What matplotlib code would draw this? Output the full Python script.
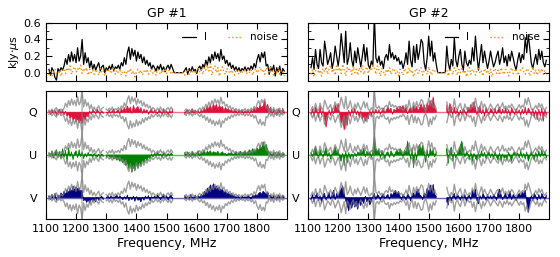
import numpy as np
import matplotlib
matplotlib.use("Agg")
import matplotlib.pyplot as plt
from matplotlib.ticker import MultipleLocator

# frequency grid (MHz), 5 MHz channels
freq = np.arange(1110, 1891, 5)

# GP #1, values in units of 0.01 kJy us
i1 = [4, -3, 6, 2, -6, -9, 5, 1, 6, 3,
      8, 17, 10, 22, 13, 25, 14, 22, 12, 30,
      14, 20, 40, 10, 24, 12, 18, 6, 14, 4,
      10, 3, 8, 12, 2, 7, 9, 0, 6, 3,
      8, 4, 10, 2, 7, 5, 9, 4, 12, 8,
      18, 10, 24, 31, 16, 29, 20, 27, 14, 25,
      17, 22, 12, 19, 10, 15, 8, 12, 4, 9,
      6, 2, 8, 4, 10, 3, 7, 1, 6, 9,
      4, 10, 5, 0, 0, 0, 0, 0, 0, 0,
      3, 6, -2, 5, 1, 7, 2, 4, -1, 5,
      8, 3, 10, 6, 15, 9, 19, 12, 22, 15,
      25, 17, 23, 14, 28, 16, 20, 11, 15, 8,
      12, 5, 9, 3, 7, 2, 6, 1, 5, 3,
      7, 2, 6, 3, 8, 4, 11, 6, 16, 22,
      13, 24, 18, 25, 8, 10, -2, 7, 2, 9,
      -4, 6, 1, 8, -3, 5, 2]
noise1 = [-3, 2, -5, 1, 4, -2, 0, 3, -4, 2,
          5, -1, 6, 2, 8, -2, 4, 7, 1, 5,
          3, 9, -1, 5, 2, 6, -3, 4, 0, 3,
          -2, 4, 1, -3, 5, 0, 2, -4, 3, 1,
          4, -1, 2, 6, -2, 3, 0, 5, -3, 2,
          1, -4, 3, 0, 5, -2, 2, -5, 1, 4,
          -1, 3, -3, 2, 0, 4, -2, 1, 5, -1,
          2, -3, 4, 1, -2, 3, 0, 5, -1, 2,
          3, -2, 1, 0, 0, 0, 0, 0, 0, 0,
          -3, 1, 4, -2, 2, 0, 3, -1, 2, 5,
          1, 4, -2, 6, 3, 9, 2, 11, -3, 5,
          8, 0, 6, -4, 3, 7, 1, -2, 5, 2,
          -1, 3, 0, -3, 4, 1, -2, 2, 0, 3,
          2, -1, 4, 0, 3, -3, 2, 5, 0, 3,
          7, 1, 4, -2, 6, 3, -1, 8, 2, -3,
          4, 0, 6, -2, 3, 1, -4]
q1 = [3, -4, 5, -2, 4, -6, 2, 6, -3, 5,
      -5, 2, -8, -3, -12, -6, -15, -10, -18, -12,
      -20, -14, -22, -8, -15, -5, -9, 3, -4, 5,
      2, -3, 6, 1, -4, 3, -2, 5, 0, -3,
      4, -2, 3, 6, -1, 2, 5, -3, 7, 2,
      9, 3, 12, 5, 10, -2, 13, 4, 8, 11,
      3, 9, -2, 6, 1, 5, -4, 3, 6, -2,
      4, 1, -3, 5, 2, -4, 6, -1, 3, -5,
      4, -2, 6, 0, 0, 0, 0, 0, 0, 0,
      -4, 3, 5, -2, 2, 6, -1, 4, 0, 3,
      -2, 5, 1, 8, 3, 12, 6, 14, 4, 16,
      9, 15, 6, 13, 8, 11, 3, 9, 5, 7,
      2, 6, -1, 5, 3, -2, 4, 1, 5, -3,
      3, 0, 4, -2, 5, 1, 8, 3, 10, 6,
      14, 8, 12, 22, 9, 15, 4, 10, -3, 6,
      2, -5, 7, 3, -4, 8, -2]
u1 = [4, -3, 8, -6, 5, 10, -4, 7, -8, 12,
      -5, 9, -12, 14, -3, 6, -9, 4, 8, -5,
      10, -3, 6, -7, 3, -4, 5, -2, 2, -5,
      3, -2, -4, 1, -6, 2, -3, -1, -5, 0,
      -3, -6, -2, -8, -4, -10, -6, -12, -8, -15,
      -10, -20, -14, -26, -18, -33, -22, -30, -16, -25,
      -12, -20, -8, -15, -5, -11, -3, -7, 2, -4,
      3, -2, 5, -1, 2, -4, 4, 1, -3, 3,
      -2, 4, 1, 0, 0, 0, 0, 0, 0, 0,
      5, -2, 6, 1, -3, 7, 2, -1, 4, 8,
      -2, 6, 3, 9, 1, 7, 4, 8, 2, 6,
      5, 3, 7, 1, 4, 6, 2, 3, -1, 4,
      2, 5, 0, 3, 6, 1, 4, 7, 2, 5,
      8, 3, 6, 10, 4, 12, 7, 9, 13, 8,
      18, 11, 25, 14, 20, 9, 6, 3, -2, 4,
      5, -3, 6, 2, -4, 3, 1]
v1 = [3, -4, 6, -2, 8, -5, 5, 2, 9, 4,
      12, 6, 15, 9, 18, 11, 22, 14, 20, 16,
      18, 12, 14, -6, -3, -9, -4, -10, -2, -7,
      -3, -8, 1, -5, -2, 3, -4, 2, -1, 4,
      -2, 3, 1, -3, 2, 5, -1, 3, 0, -4,
      2, -3, 5, -6, 1, -4, 3, -7, 2, -5,
      -3, -8, 1, -5, 3, -2, 4, -6, 2, -1,
      3, -2, 5, 1, -4, 2, 6, -3, 4, -5,
      2, 5, -3, 0, 0, 0, 0, 0, 0, 0,
      4, -2, 3, -4, 6, 1, -3, 5, -2, 3,
      1, 6, 3, 12, 8, 18, 14, 24, 16, 26,
      19, 22, 15, 20, 12, 17, 8, 13, 6, 10,
      4, 8, 2, 5, -1, 4, 1, -3, 3, 0,
      2, -2, 4, 1, -3, 5, 2, 6, 3, 8,
      10, 6, 12, 9, 7, 11, 3, 5, -2, 4,
      1, -3, 5, 2, -1, 4, 0]

# GP #2
i2 = [6, 18, 4, 28, 10, 5, 28, 12, 8, 38,
      25, 10, 16, 24, 5, 14, 32, 20, 8, 22,
      47, 30, 12, 50, 10, 18, 36, 15, 7, 26,
      12, 30, 18, 7, 20, 34, 14, 30, 9, 5,
      14, 8, 70, 18, 12, 20, 9, 14, 5, 18,
      22, 15, 34, 18, 24, 16, 21, 14, 18, 10,
      14, 5, 12, 24, 10, 38, 15, 7, 32, 12,
      34, 16, 26, 40, 36, 12, 3, 18, 44, 20,
      38, 14, 24, 10, 0, 0, 0, 0, 0, 0,
      32, 12, 3, 16, 8, 42, 15, 7, 20, 28,
      10, 3, 26, 12, 8, 15, 10, 30, 14, 44,
      20, 3, 18, 34, 12, 26, 15, 5, 14, 26,
      16, 7, 12, 20, 26, 10, 18, 30, 12, 20,
      8, 22, 14, 26, 18, 9, 3, 15, 24, 12,
      22, 16, 42, 24, 46, 30, 12, 5, 14, 22,
      10, 28, 16, 26, 12, 7, 15]
noise2 = [-2, 4, -5, 2, 6, -1, 3, -4, 5, 1,
          7, -2, 4, 9, 0, 5, -3, 8, 2, 6,
          -1, 10, 3, -4, 7, 2, 5, -2, 8, 0,
          4, -3, 6, 1, 9, -2, 3, 7, -1, 5,
          2, 11, 6, -2, 8, 3, -4, 5, 1, -3,
          4, 0, 6, -2, 3, 5, -1, 2, -4, 4,
          1, -3, 5, 2, -2, 6, 0, 3, -5, 2,
          5, -1, 3, 6, -3, 2, 4, -2, 7, 1,
          -3, 4, 2, 0, 0, 0, 0, 0, 0, 0,
          3, -4, 5, 1, -2, 6, 2, -3, 4, 0,
          5, -1, 3, -5, 2, 6, -2, 4, 1, -3,
          3, 7, -1, 2, -4, 5, 0, 3, -2, 4,
          -5, 2, 5, -1, 3, -3, 6, 1, -2, 4,
          2, -4, 3, 6, -1, 2, 5, -3, 0, 4,
          6, 1, -2, 5, 3, -4, 2, 7, -1, 3,
          -3, 4, 0, 5, -2, 3, -4]
q2 = [-4, 6, -8, 10, 3, -10, 12, -5, 4, -12,
      -28, -10, 5, -6, 8, -3, 14, 6, 17, -4,
      -20, -12, -33, -18, -25, 4, -8, 6, -3, 8,
      -5, 3, -10, 2, -14, -6, -17, -9, -12, 3,
      -6, 4, -3, 6, -2, 5, -4, 3, 8, -2,
      5, 10, 3, 8, -4, 6, 2, 9, 4, 12,
      7, 13, 3, 10, -3, 5, 9, 2, 12, 6,
      11, 3, 8, 16, 6, 14, 4, 18, 10, 22,
      12, 29, 8, 4, 0, 0, 0, 0, 0, 0,
      14, -6, 17, 8, -5, 10, -3, 6, -8, 4,
      -4, 7, 2, -6, 10, 3, 15, 6, 20, 9,
      -5, 8, 12, -3, 6, -8, 9, 2, -5, 7,
      4, -6, 8, -3, 5, 10, -4, 6, -2, 8,
      -3, 5, -7, 9, 2, -4, 7, -2, 5, -6,
      6, -3, 10, -5, 8, 3, -6, 7, -10, 4,
      -14, 6, -8, 9, -17, 5, -6]
u2 = [5, -3, 8, 16, 4, -6, 10, 2, -4, 6,
      14, -3, 5, -8, 2, 6, 15, 4, 10, -6,
      -12, 3, -20, 8, -15, 5, -8, 2, -5, 4,
      -3, 6, 2, 10, 4, 13, -4, 7, 2, 6,
      -5, 8, 35, 12, 6, 10, -6, 8, 3, -8,
      4, 6, -5, 8, 2, -4, 5, 9, 3, 12,
      6, -3, 9, 4, 26, 10, -8, 14, -24, 6,
      -10, 14, 20, 8, 18, 6, -14, 9, -5, 12,
      4, 10, -4, 6, 0, 0, 0, 0, 0, 0,
      12, -16, 8, 15, -12, 5, -6, 3, 8, 18,
      26, 10, -4, 6, 2, -8, 5, -12, 3, -6,
      -10, 4, -6, 8, -3, 5, -7, 2, 6, -5,
      3, -8, 6, -4, -10, 4, -12, 2, -6, -3,
      -10, 5, -4, -12, 3, 6, -2, 4, -6, 8,
      -5, 3, -8, 6, -12, -4, 7, -3, -10, 5,
      -6, 8, -4, 10, -2, 6, -5]
v2 = [-4, 6, -8, 3, 9, -6, 4, -10, 5, 8,
      -5, 3, 10, -3, 6, 14, -4, 8, 2, 11,
      16, 22, 9, -6, -14, -25, -10, -20, -8, -18,
      -12, -22, -6, -15, -4, -11, 3, -8, -3, -14,
      -6, 2, 8, -4, 6, 3, -5, 4, 7, -2,
      3, 6, -3, 8, 4, 10, 14, 6, 12, 3,
      -4, 6, 2, -5, 8, 3, -6, 4, 9, 2,
      12, 16, 6, 3, -4, 8, 5, 18, 10, 24,
      14, 25, 6, 3, 0, 0, 0, 0, 0, 0,
      -8, -14, 5, -6, 3, 8, -4, 6, 2, -5,
      4, -3, 6, -8, 2, 5, -4, 14, 8, 16,
      -6, -12, 4, -3, 8, 2, -5, 6, -2, 4,
      -3, 6, 2, -5, 10, 16, 6, -4, 3, 8,
      -3, 5, 12, -4, 6, 2, -6, 4, 8, 3,
      10, 6, 14, -8, -28, -12, 4, -6, 8, 3,
      -5, 6, -3, 8, 2, -4, 5]

# channels hit by RFI (MHz)
rfi1 = [1220]
rfi2 = [1320]
# I envelope in the lower panels, relative to the upper panel
env_scale = [1.0, 0.6]

titles = ["GP #1", "GP #2"]
stokes = ["Q", "U", "V"]
colors = ["crimson", "green", "navy"]
offsets = [0.0, -0.8, -1.6]

plt.rcParams["font.size"] = 8

fig = plt.figure(figsize=(5.6, 2.57), dpi=100)
lefts = [0.082, 0.550]
width = 0.431

pulses = [(i1, noise1, q1, u1, v1, rfi1), (i2, noise2, q2, u2, v2, rfi2)]

for n, (I, N, Q, U, V, rfi) in enumerate(pulses):
    I = np.array(I) / 100
    N = np.array(N) / 100
    pol = [np.array(Q) / 100, np.array(U) / 100, np.array(V) / 100]
    gap = I == 0

    ax = fig.add_axes([lefts[n], 0.685, width, 0.226])
    ax.plot(freq, I, color="black", lw=0.9, label="I")
    ax.plot(freq, N, color="darkorange", ls=":", lw=1.0, label="noise")
    ax.set_xlim(1100, 1900)
    ax.set_ylim(-0.1, 0.6)
    ax.xaxis.set_major_locator(MultipleLocator(100))
    ax.yaxis.set_major_locator(MultipleLocator(0.2))
    ax.yaxis.set_minor_locator(MultipleLocator(0.1))
    ax.tick_params(which="both", direction="in", top=True, right=True)
    ax.tick_params(which="major", length=4)
    ax.tick_params(which="minor", length=2)
    ax.set_xticklabels([])
    ax.set_title(titles[n], fontsize=9, pad=4)
    ax.legend(loc="upper right", ncol=2, frameon=False, fontsize=7.5,
              handlelength=1.3, columnspacing=2.0, borderaxespad=0.5)
    if n == 0:
        ax.set_ylabel(r"kJy$\cdot\mu$s", fontsize=8, labelpad=2)
    else:
        ax.set_yticklabels([])

    ax = fig.add_axes([lefts[n], 0.148, width, 0.498])
    env = np.where(gap, np.nan, I * env_scale[n])
    for f in rfi:
        ax.axvline(f, color="gray", alpha=0.5, lw=1.2)
    for k in range(3):
        off = offsets[k]
        p = np.where(gap, np.nan, pol[k])
        ax.axhline(off, color=colors[k], alpha=0.6, lw=1.0)
        ax.plot(freq, off + env, color="gray", alpha=0.75, lw=1.0)
        ax.plot(freq, off - env, color="gray", alpha=0.75, lw=1.0)
        ax.fill_between(freq, off, off + p, color=colors[k], lw=0.5)
    ax.set_xlim(1100, 1900)
    ax.set_ylim(-2.0, 0.4)
    ax.set_yticks(offsets)
    ax.set_yticklabels(stokes)
    ax.set_xticks(range(1100, 1900, 100))
    ax.tick_params(direction="in", top=True, right=True, length=4)
    ax.tick_params(axis="y", length=0, pad=6)
    ax.set_xlabel("Frequency, MHz", fontsize=9, labelpad=2)

fig.savefig("out.png", dpi=100)
